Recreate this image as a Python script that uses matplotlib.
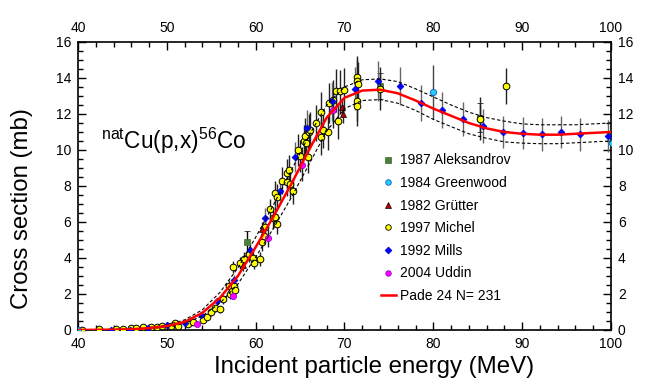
import matplotlib
matplotlib.use("Agg")
import matplotlib.pyplot as plt
from matplotlib.ticker import MultipleLocator

plt.rcParams['font.family'] = ['Liberation Sans', 'DejaVu Sans']
plt.rcParams['mathtext.fontset'] = 'custom'
plt.rcParams['mathtext.rm'] = 'Liberation Sans'

# Pade fit and its uncertainty band
fit_e = [40, 42, 44, 46, 48, 50, 52, 54, 56, 58, 60, 62, 64, 66, 68, 70, 72, 74,
         76, 78, 80, 82, 84, 86, 88, 90, 92, 94, 96, 98, 100]
fit_s = [0.0, 0.01, 0.02, 0.04, 0.1, 0.22, 0.45, 0.95, 1.8, 3.0, 4.6, 6.3, 8.1,
         10.0, 11.8, 12.9, 13.3, 13.35, 13.15, 12.75, 12.3, 11.9, 11.5, 11.2,
         11.0, 10.9, 10.85, 10.85, 10.9, 10.95, 11.0]
fit_hi = [0.0, 0.02, 0.03, 0.06, 0.13, 0.28, 0.56, 1.12, 2.1, 3.45, 5.15, 6.95,
          8.85, 10.8, 12.5, 13.5, 13.9, 13.95, 13.8, 13.4, 12.95, 12.5, 12.1,
          11.8, 11.6, 11.45, 11.4, 11.4, 11.4, 11.45, 11.5]
fit_lo = [0.0, 0.0, 0.01, 0.03, 0.07, 0.17, 0.36, 0.78, 1.5, 2.55, 4.05, 5.65,
          7.35, 9.2, 11.05, 12.3, 12.75, 12.8, 12.6, 12.2, 11.7, 11.3, 10.9,
          10.65, 10.45, 10.38, 10.35, 10.35, 10.4, 10.45, 10.5]

# 1987 Aleksandrov
alek_e = [59.0, 74.0, 85.3]
alek_s = [4.9, 13.55, 11.8]
alek_err = [0.6, 0.7, 0.8]

# 1984 Greenwood
green_e = [40.0, 80.0, 100.1]
green_s = [0.0, 13.23, 10.4]
green_err = [0.0, 1.5, 0.6]

# 1982 Grutter
grut_e = [58.6, 60.7, 69.7, 69.8]
grut_s = [3.6, 5.6, 12.4, 12.0]
grut_err = [0.3, 0.4, 0.5, 0.5]

# 1997 Michel
mich_e = [40.5, 42.4, 44.3, 45.1, 46.0, 46.5, 47.3, 48.2, 48.9, 49.4, 50.5, 50.9,
          51.3, 52.4, 53.0, 54.1, 54.5, 55.0, 55.4, 56.0, 56.3, 57.0, 57.1, 57.3,
          57.6, 57.7, 57.5, 58.2, 58.7, 59.3, 59.7, 59.8, 60.5, 60.7, 60.9, 61.1,
          61.6, 62.0, 62.2, 62.4, 62.2, 62.4, 63.0, 63.5, 63.7, 63.5, 63.9, 64.2,
          64.8, 65.0, 65.4, 65.6, 65.7, 65.9, 66.0, 66.1, 66.8, 67.4, 67.4, 67.6,
          68.1, 68.3, 68.75, 69.1, 69.5, 70.0, 69.3, 71.4, 71.4, 71.5, 71.4, 71.4,
          74.0, 85.3, 88.2]
mich_s = [0.0, 0.04, 0.08, 0.08, 0.1, 0.1, 0.14, 0.15, 0.19, 0.2, 0.22, 0.41,
          0.22, 0.33, 0.45, 0.55, 0.74, 1.0, 1.2, 1.15, 1.7, 2.45, 1.98, 2.14,
          2.45, 2.2, 3.49, 3.72, 3.94, 4.2, 3.98, 3.74, 3.95, 4.9, 5.2, 5.7,
          6.7, 6.2, 7.6, 7.4, 6.3, 5.9, 8.3, 8.7, 8.9, 8.2, 8.1, 7.7,
          10.0, 9.66, 10.5, 10.8, 10.4, 9.6, 11.0, 11.1, 11.5, 12.1, 10.7, 11.1,
          11.0, 12.6, 12.8, 13.3, 13.25, 13.34, 11.6, 14.03, 13.84, 13.69, 12.7, 12.45,
          13.4, 11.74, 13.55]
mich_err = [0.02, 0.03, 0.03, 0.03, 0.04, 0.04, 0.05, 0.05, 0.06, 0.06, 0.07, 0.1,
            0.07, 0.1, 0.12, 0.15, 0.15, 0.2, 0.2, 0.2, 0.25, 0.3, 0.25, 0.25,
            0.3, 0.3, 0.35, 0.35, 0.4, 0.4, 0.4, 0.35, 0.4, 0.5, 0.5, 0.55,
            0.6, 0.6, 0.7, 0.7, 0.6, 0.55, 0.75, 0.8, 0.8, 0.75, 0.75, 0.7,
            0.9, 0.9, 0.9, 1.0, 0.9, 0.9, 1.0, 1.0, 1.0, 1.1, 1.0, 1.0,
            1.0, 1.1, 1.1, 1.2, 1.2, 1.2, 1.0, 1.2, 1.2, 1.2, 1.1, 1.1,
            1.2, 1.2, 1.0]

# 1992 Mills
mills_e = [43.7, 45.8, 47.9, 50.0, 52.0, 53.9, 55.7, 57.6, 59.4, 61.1, 62.7, 64.4,
           65.75, 68.6, 71.2, 73.75, 76.2, 78.6, 81.0, 83.3, 85.6, 87.9, 90.1,
           92.2, 94.4, 96.5, 99.7]
mills_s = [0.0, 0.0, 0.13, 0.25, 0.37, 0.84, 1.63, 2.79, 4.46, 6.2, 7.7, 9.6,
           11.2, 12.7, 13.4, 13.84, 13.55, 12.63, 12.2, 11.7, 11.35, 11.0, 10.94,
           10.87, 11.0, 10.87, 10.78]
mills_err = [0.01, 0.01, 0.02, 0.03, 0.04, 0.08, 0.15, 0.25, 0.4, 0.55, 0.7, 0.85,
             1.0, 1.1, 1.2, 1.1, 1.05, 1.0, 1.0, 0.95, 0.95, 0.9, 0.9,
             0.9, 0.9, 0.9, 0.9]

# 2004 Uddin
udd_e = [53.4, 57.5, 61.4, 65.2, 68.75]
udd_s = [0.32, 1.9, 5.1, 9.16, 12.2]
udd_err = [0.05, 0.15, 0.5, 0.9, 1.0]

fig = plt.figure(figsize=(6.49, 3.81), dpi=100)
ax = fig.add_axes([0.1202, 0.1339, 0.8212, 0.7559])

ax.plot(fit_e, fit_hi, color='black', ls=(0, (3, 2)), lw=0.8, zorder=4)
ax.plot(fit_e, fit_lo, color='black', ls=(0, (3, 2)), lw=0.8, zorder=4)

ax.errorbar(mich_e, mich_s, yerr=mich_err, fmt='o', ms=4.8, mfc='#FFFF00',
            mec='black', mew=0.7, ecolor='#222222', elinewidth=1.0, zorder=3)
ax.errorbar(mills_e, mills_s, yerr=mills_err, fmt='D', ms=3.5, mfc='#0000FF',
            mec='#0000CC', mew=0.5, ecolor='#666666', elinewidth=1.0, zorder=3)
ax.errorbar(alek_e, alek_s, yerr=alek_err, fmt='s', ms=5, mfc='#4E7F3A',
            mec='#3A6A2A', mew=0.5, ecolor='black', elinewidth=1.0, capsize=2, zorder=2)
ax.errorbar(green_e, green_s, yerr=green_err, fmt='o', ms=4.5, mfc='#22CCFF',
            mec='#1060C0', mew=0.6, ecolor='#444444', elinewidth=1.0, zorder=3)
ax.errorbar(grut_e, grut_s, yerr=grut_err, fmt='^', ms=4, mfc='#C00000',
            mec='black', mew=0.5, ecolor='#222222', elinewidth=1.0, zorder=3)
ax.errorbar(udd_e, udd_s, yerr=udd_err, fmt='o', ms=4.5, mfc='#FF00FF',
            mec='#8000C0', mew=0.5, ecolor='#222222', elinewidth=1.0, zorder=3)

ax.plot(fit_e, fit_s, color='#FF0000', lw=1.8, zorder=5)

# legend handles
h = []
h.append(ax.plot([], [], 's', ms=5, mfc='#4E7F3A', mec='#3A6A2A', mew=0.5,
                 label='1987 Aleksandrov')[0])
h.append(ax.plot([], [], 'o', ms=4, mfc='#22CCFF', mec='#1060C0', mew=0.6,
                 label='1984 Greenwood')[0])
h.append(ax.plot([], [], '^', ms=4, mfc='#C00000', mec='black', mew=0.5,
                 label='1982 Grütter')[0])
h.append(ax.plot([], [], 'o', ms=4, mfc='#FFFF00', mec='black', mew=0.6,
                 label='1997 Michel')[0])
h.append(ax.plot([], [], 'D', ms=3.5, mfc='#0000FF', mec='#0000CC', mew=0.5,
                 label='1992 Mills')[0])
h.append(ax.plot([], [], 'o', ms=4, mfc='#FF00FF', mec='#8000C0', mew=0.5,
                 label='2004 Uddin')[0])
h.append(ax.plot([], [], color='#FF0000', lw=1.8, label='Pade 24 N= 231')[0])
ax.legend(handles=h, loc='upper left', bbox_to_anchor=(0.55, 0.647), frameon=False,
          fontsize=10, handlelength=1.1, handletextpad=0.3, labelspacing=0.62,
          borderpad=0.2)

ax.text(0.043, 0.628, r'$^{\rm nat}$Cu(p,x)$^{\rm 56}$Co', transform=ax.transAxes,
        fontsize=16.3, ha='left', va='baseline')

ax.set_xlim(40, 100)
ax.set_ylim(0, 16)
ax.xaxis.set_major_locator(MultipleLocator(10))
ax.xaxis.set_minor_locator(MultipleLocator(2))
ax.yaxis.set_major_locator(MultipleLocator(2))
ax.yaxis.set_minor_locator(MultipleLocator(0.5))
ax.tick_params(which='both', direction='in', top=True, right=True,
               labeltop=True, labelright=True, width=1.0, labelsize=10, pad=5)
ax.tick_params(which='major', length=6)
ax.tick_params(which='minor', length=3.5)
for sp in ax.spines.values():
    sp.set_linewidth(1.2)

ax.set_xlabel('Incident particle energy (MeV)', fontsize=17.3)
ax.set_ylabel('Cross section (mb)', fontsize=17.3)
ax.xaxis.set_label_coords(0.555, -0.092)
ax.yaxis.set_label_coords(-0.084, 0.42)

fig.savefig('out.png', dpi=100)
